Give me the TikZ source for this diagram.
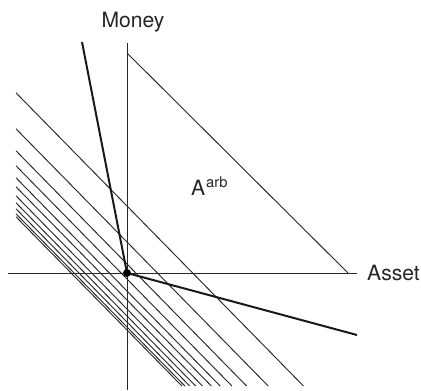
\documentclass[tikz,border=0pt]{standalone}
\usepackage{fontspec}
\setmainfont{TeX Gyre Heros}
\usepackage{tikz}
\usetikzlibrary{positioning}
\definecolor{LineGray}{RGB}{40, 40, 40}

\begin{document}
\begin{tikzpicture}[x=0.03cm, y=0.03cm,
      axisline/.style={draw=LineGray, line width=0.8pt},
      level/.style={draw=LineGray, line width=0.8pt},
      cone/.style={draw=black!90, line width=1.7pt},
      lab/.style={font=\fontsize{18}{21}\selectfont, text=black!85, inner sep=0pt}
    ]
      \useasboundingbox (-127,-117) rectangle (294,273);
      % axes
      \coordinate (O) at (0,0);
      \coordinate (ytop) at (0,230);
      \coordinate (ybot) at (0,-117);
      \coordinate (xleft) at (-119,0);
      \coordinate (xright) at (230,0);
      \draw[axisline] (ybot) -- (ytop);
      \draw[axisline] (xleft) -- (xright);
      \node[lab, anchor=base] (money) at (6,245) {Money};
      \node[lab, anchor=west, right=10 of xright] (asset) {Asset};

      % arbitrage boundary
      \coordinate (arbtop) at (0,220);
      \coordinate (arbright) at (221,0);
      \draw[level] (arbtop) -- (arbright);
      \node[lab, anchor=base west] (arb) at (64,78) {A\textsuperscript{\kern0.8pt arb}};

      % parallel levels
      \foreach \c in {67,31,9,-6,-18,-27,-36,-43,-49,-54,-57}
        \draw[level] (-111,{\c+113.2}) -- ({(\c+113)/1.02},-113);

      % cone
      \coordinate (cup) at (-45,231);
      \coordinate (cdown) at (230,-62);
      \draw[cone] (cup) -- (O) -- (cdown);
      \fill[black] (O) circle (4);
    \end{tikzpicture}
\end{document}
